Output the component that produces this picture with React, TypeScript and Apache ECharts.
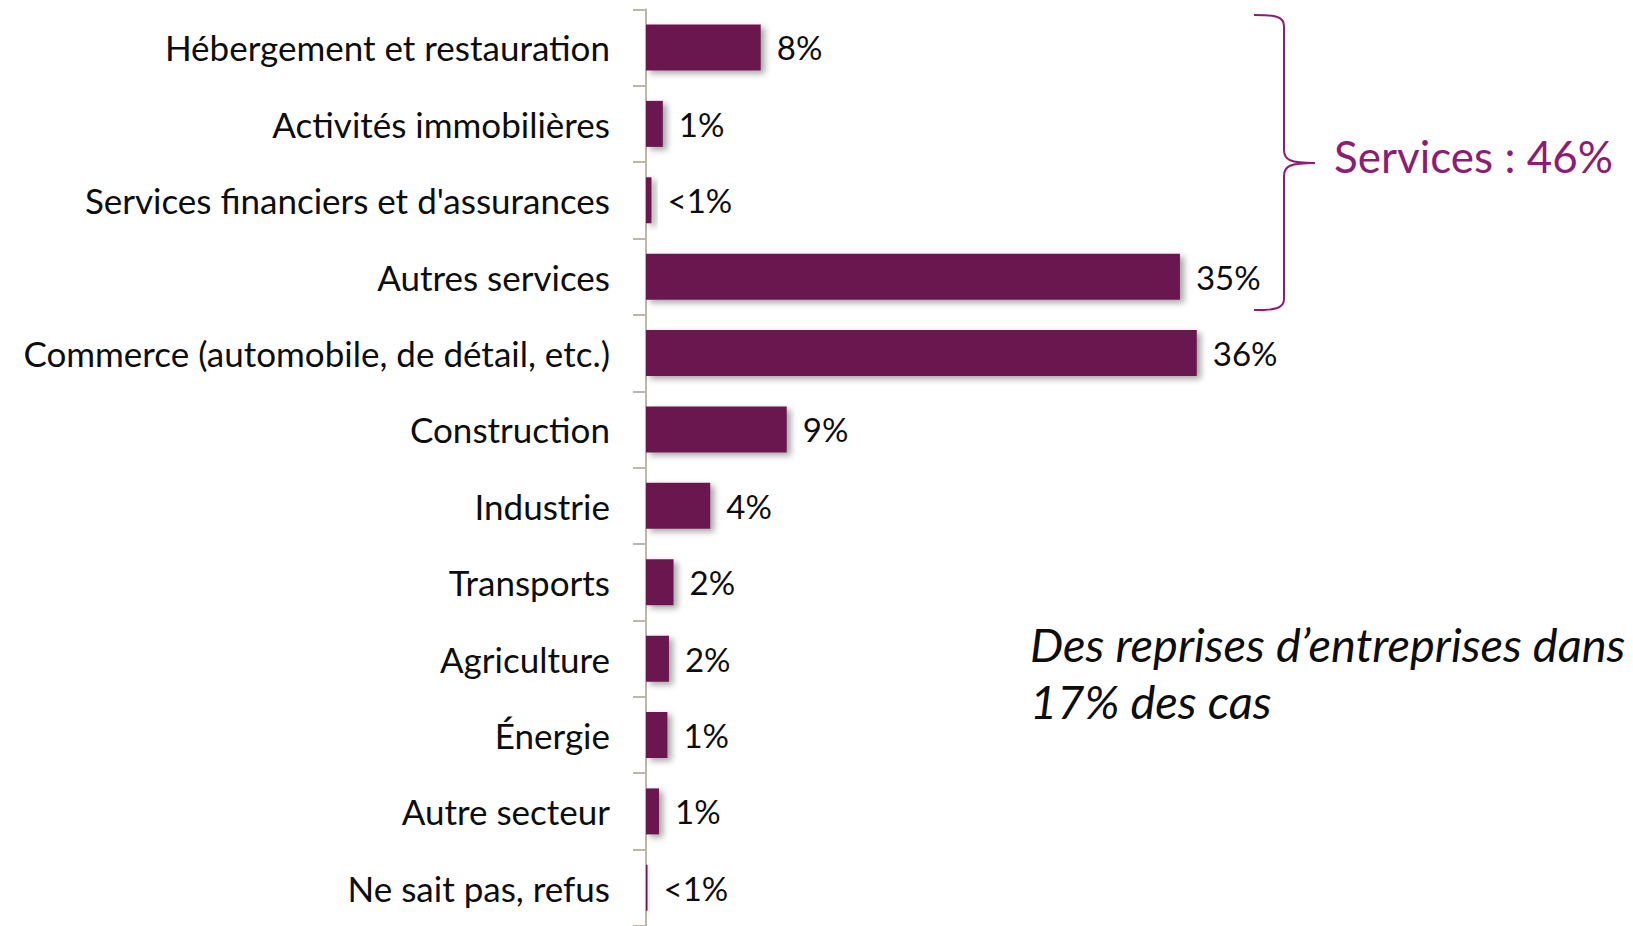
import React, { useEffect, useRef } from "react";
import * as echarts from "echarts";

const categories = [
  "Hébergement et restauration",
  "Activités immobilières",
  "Services financiers et d'assurances",
  "Autres services",
  "Commerce (automobile, de détail, etc.)",
  "Construction",
  "Industrie",
  "Transports",
  "Agriculture",
  "Énergie",
  "Autre secteur",
  "Ne sait pas, refus",
];
const values = [7.5, 1.1, 0.36, 34.9, 36.0, 9.2, 4.2, 1.8, 1.5, 1.4, 0.85, 0.1];
const valueLabels = ["8%", "1%", "<1%", "35%", "36%", "9%", "4%", "2%", "2%", "1%", "1%", "<1%"];
const servicesLabel = "Services : 46%";
const noteLines = ["Des reprises d\u2019entreprises dans", "17% des cas"];

const BRACE =
  "M0 0 C20 0 30 1 30 11 L30 135 C30 145 36 148 61 148 C36 148 30 151 30 161 L30 284 C30 294 20 295 0 295";

export default function App() {
  const ref = useRef<HTMLDivElement>(null);
  useEffect(() => {
    if (!ref.current) return;
    try {
      echarts.graphic.registerShape("brace", echarts.graphic.extendPath(BRACE, {}));
    } catch (e) {}
    const chart = echarts.init(ref.current, null, { renderer: "svg" });
    const font = "Lato, 'Open Sans', sans-serif";
    chart.setOption({
      animation: false,
      grid: { left: 646, top: 9.3, width: 612, height: 919.7, containLabel: false },
      xAxis: { type: "value", min: 0, max: 40, show: false },
      yAxis: {
        type: "category",
        data: categories,
        inverse: true,
        axisLine: { show: true, lineStyle: { color: "#BDB6AC", width: 2 } },
        axisTick: { show: true, length: 13, lineStyle: { color: "#BDB6AC", width: 2 } },
        axisLabel: { margin: 36, fontSize: 35, color: "#0d0d0d", fontFamily: font },
        splitLine: { show: false },
      },
      series: [
        {
          type: "bar",
          data: values,
          barWidth: 46,
          itemStyle: {
            color: "#6A1850",
            shadowColor: "rgba(0,0,0,0.35)",
            shadowBlur: 6,
            shadowOffsetX: 4,
            shadowOffsetY: 3,
          },
          label: {
            show: true,
            position: "right",
            distance: 16,
            fontSize: 33,
            color: "#0d0d0d",
            fontFamily: font,
            formatter: (p: any) => valueLabels[p.dataIndex],
          },
        },
      ],
      graphic: [
        {
          type: "brace",
          x: 1254,
          y: 15,
          style: { fill: "none", stroke: "#8C1D73", lineWidth: 2 },
        },
        {
          type: "text",
          x: 1334,
          y: 156,
          style: {
            text: servicesLabel,
            fontSize: 44,
            fill: "#8C1D73",
            fontFamily: font,
            verticalAlign: "middle",
          },
        },
        {
          type: "text",
          x: 1030,
          y: 644,
          style: {
            text: noteLines[0],
            fontSize: 47,
            fontStyle: "italic",
            fill: "#0d0d0d",
            fontFamily: font,
            verticalAlign: "middle",
          },
        },
        {
          type: "text",
          x: 1030,
          y: 701,
          style: {
            text: noteLines[1],
            fontSize: 47,
            fontStyle: "italic",
            fill: "#0d0d0d",
            fontFamily: font,
            verticalAlign: "middle",
          },
        },
      ],
    });
    return () => chart.dispose();
  }, []);
  return (
    <div
      ref={ref}
      style={{ position: "fixed", left: 0, top: 0, width: 1633, height: 926, background: "#fff" }}
    />
  );
}
